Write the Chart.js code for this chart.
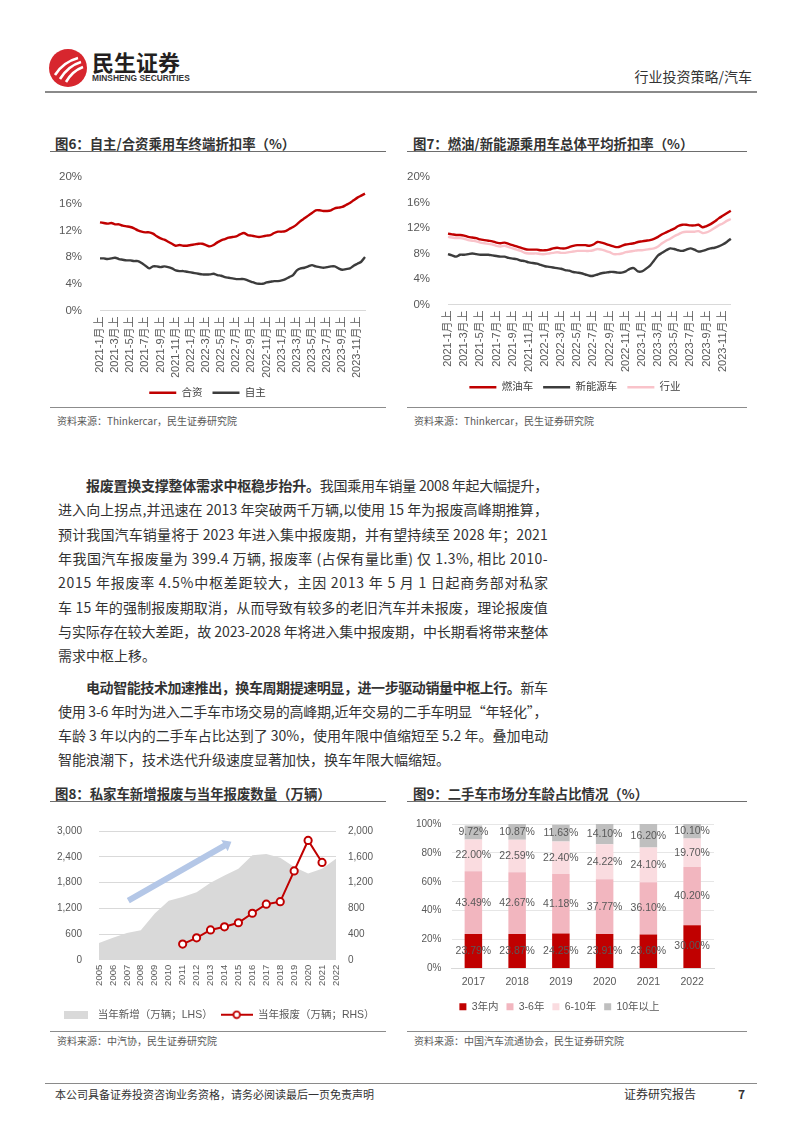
<!DOCTYPE html>
<html>
<head>
<meta charset="utf-8">
<title>行业投资策略/汽车</title>
<script src="https://cdn.jsdelivr.net/npm/chart.js@4.4.1/dist/chart.umd.min.js"></script>
<style>
  body { margin: 0; background: #fff; font-family: "Noto Sans CJK SC", "Noto Sans", sans-serif; color: #333; }
  #page { position: relative; width: 802px; height: 1133px; overflow: hidden; background: #fff; }
  .abs { position: absolute; white-space: nowrap; }
  .fig-title { position: absolute; font-size: 13.4px; font-weight: bold; color: #333; line-height: 18px; white-space: nowrap; }
  .rule { position: absolute; height: 0; border-top: 1.5px solid #6d6d6d; }
  .thin { position: absolute; height: 0; border-top: 1px solid #8c8c8c; }
  .src { position: absolute; font-size: 10px; color: #595959; line-height: 14px; white-space: nowrap; }
  .jl { position: absolute; left: 58px; font-size: 14px; line-height: 20px; white-space: nowrap; color: #333; }
  .ind { padding-left: 28px; }
  canvas { position: absolute; }
</style>
</head>
<body>
<div id="page">

  <!-- header -->
  <svg class="abs" style="left:48px;top:48px" width="40" height="40" viewBox="0 0 40 40">
    <circle cx="20" cy="20" r="19" fill="#d7262e"/>
    <path d="M7 27 C12 19 19 13 30 10" stroke="#fff" stroke-width="2.6" fill="none"/>
    <path d="M12 31 C17 23 23 17 33 14" stroke="#fff" stroke-width="2.6" fill="none"/>
    <path d="M18 34 C22 27 27 22 35 19" stroke="#fff" stroke-width="2.6" fill="none"/>
  </svg>
  <div class="abs" style="left:92px;top:48px;font-size:22px;font-weight:bold;color:#231f20;line-height:26px;">民生证券</div>
  <div class="abs" style="left:92px;top:73px;font-family:'Liberation Sans Narrow','Liberation Sans',sans-serif;font-size:8.4px;font-weight:bold;color:#333;line-height:11px;">MINSHENG SECURITIES</div>
  <div class="abs" style="right:50px;top:66px;font-size:14px;color:#333;line-height:20px;">行业投资策略/汽车</div>
  <div class="rule" style="left:45px;width:712px;top:91px;border-top:2px solid #8a8a8a;"></div>

  <!-- figure titles -->
  <div class="fig-title" style="left:55px;top:134px;">图6：自主/合资乘用车终端折扣率（%）</div>
  <div class="rule" style="left:50px;width:336px;top:151px;"></div>
  <div class="fig-title" style="left:413px;top:134px;">图7：燃油/新能源乘用车总体平均折扣率（%）</div>
  <div class="rule" style="left:407px;width:340px;top:151px;"></div>

  <canvas id="c6" width="335" height="250" style="left:50px;top:160px;"></canvas>
  <canvas id="c7" width="345" height="250" style="left:405px;top:160px;"></canvas>

  <div class="thin" style="left:50px;width:336px;top:407px;"></div>
  <div class="thin" style="left:407px;width:340px;top:407px;"></div>
  <div class="src" style="left:57px;top:414px;">资料来源：Thinkercar，民生证券研究院</div>
  <div class="src" style="left:414px;top:414px;">资料来源：Thinkercar，民生证券研究院</div>

  <!-- body text -->
  <div class="jl ind" style="top:475px;"><b>报废置换支撑整体需求中枢稳步抬升。</b>我国乘用车销量 2008 年起大幅提升，</div>
  <div class="jl" style="top:499px;">进入向上拐点,并迅速在 2013 年突破两千万辆,以使用 15 年为报废高峰期推算，</div>
  <div class="jl" style="top:523.5px;">预计我国汽车销量将于 2023 年进入集中报废期，并有望持续至 2028 年；2021</div>
  <div class="jl" style="top:548px;">年我国汽车报废量为 399.4 万辆, 报废率 (占保有量比重) 仅 1.3%, 相比 2010-</div>
  <div class="jl" style="top:572px;">2015 年报废率 4.5%中枢差距较大，主因 2013 年 5 月 1 日起商务部对私家</div>
  <div class="jl" style="top:596.5px;">车 15 年的强制报废期取消，从而导致有较多的老旧汽车并未报废，理论报废值</div>
  <div class="jl" style="top:620.5px;">与实际存在较大差距，故 2023-2028 年将进入集中报废期，中长期看将带来整体</div>
  <div class="jl last" style="top:645px;">需求中枢上移。</div>

  <div class="jl ind" style="top:677px;"><b>电动智能技术加速推出，换车周期提速明显，进一步驱动销量中枢上行。</b>新车</div>
  <div class="jl" style="top:701px;">使用 3-6 年时为进入二手车市场交易的高峰期,近年交易的二手车明显“年轻化”，</div>
  <div class="jl" style="top:725px;">车龄 3 年以内的二手车占比达到了 30%，使用年限中值缩短至 5.2 年。叠加电动</div>
  <div class="jl last" style="top:749px;">智能浪潮下，技术迭代升级速度显著加快，换车年限大幅缩短。</div>

  <div class="fig-title" style="left:55px;top:784px;">图8：私家车新增报废与当年报废数量（万辆）</div>
  <div class="rule" style="left:50px;width:336px;top:801px;"></div>
  <div class="fig-title" style="left:413px;top:784px;">图9：二手车市场分车龄占比情况（%）</div>
  <div class="rule" style="left:407px;width:340px;top:801px;"></div>

  <canvas id="c8" width="335" height="222" style="left:50px;top:808px;"></canvas>
  <canvas id="c9" width="345" height="222" style="left:405px;top:808px;"></canvas>

  <div class="thin" style="left:50px;width:336px;top:1031px;"></div>
  <div class="thin" style="left:407px;width:340px;top:1031px;"></div>
  <div class="src" style="left:57px;top:1034px;">资料来源：中汽协，民生证券研究院</div>
  <div class="src" style="left:414px;top:1034px;">资料来源：中国汽车流通协会，民生证券研究院</div>

  <!-- footer -->
  <div class="rule" style="left:45px;width:712px;top:1083px;border-top:1.5px solid #8a8a8a;"></div>
  <div class="abs" style="left:55px;top:1087px;font-size:11px;color:#333;line-height:15px;">本公司具备证券投资咨询业务资格，请务必阅读最后一页免责声明</div>
  <div class="abs" style="left:624px;top:1086px;font-size:12px;color:#333;line-height:16px;">证券研究报告</div>
  <div class="abs" style="left:738px;top:1086px;font-size:12px;font-weight:bold;color:#333;line-height:16px;">7</div>
</div>

<script>
// ---- data ----
const years = [2021, 2022, 2023];
const halves = ['上', '下'];
const periods = [];
years.forEach(y => { for (let m = 1; m <= 12; m++) halves.forEach(h => periods.push(y + '-' + m + '月' + h)); });
periods.length = 71; // 2021-1月上 ... 2023-12月上

// 图6 (%)
const jvRate = [13.2,13.1,13.0,13.1,12.9,12.9,12.7,12.6,12.5,12.3,
  12.0,11.8,11.7,11.7,11.5,11.1,10.8,10.6,10.3,10.0,
  9.7,9.8,9.7,9.7,9.8,9.9,10.0,10.0,9.8,9.6,
  9.8,10.2,10.5,10.7,10.9,11.0,11.1,11.4,11.6,11.3,
  11.2,11.1,11.0,11.1,11.2,11.3,11.6,11.8,11.8,11.9,
  12.2,12.5,12.9,13.4,13.8,14.2,14.6,15.0,15.0,14.9,
  14.9,15.0,15.3,15.4,15.5,15.8,16.1,16.5,16.9,17.2,
  17.5];
const ownRate = [7.8,7.8,7.7,7.8,7.9,7.7,7.6,7.5,7.5,7.4,
  7.4,7.1,6.7,6.3,6.6,6.6,6.5,6.6,6.5,6.3,
  6.0,5.9,5.9,5.8,5.7,5.6,5.5,5.4,5.4,5.4,
  5.5,5.3,5.2,5.0,4.9,4.8,4.7,4.7,4.7,4.5,
  4.3,4.1,4.0,4.0,4.2,4.3,4.4,4.4,4.5,4.7,
  5.0,5.3,6.0,6.3,6.4,6.6,6.8,6.6,6.5,6.4,
  6.5,6.6,6.6,6.3,6.1,6.2,6.3,6.7,7.0,7.3,
  8.0];

// 图7 (%)
const iceRate = [11.1,11.0,10.9,10.9,10.8,10.6,10.5,10.4,10.2,10.1,
  10.0,9.9,9.7,9.6,9.7,9.5,9.3,9.1,8.9,8.7,
  8.6,8.6,8.6,8.5,8.5,8.6,8.8,8.9,8.8,8.8,
  9.0,9.2,9.3,9.3,9.3,9.2,9.4,9.8,9.7,9.5,
  9.3,9.1,9.0,9.2,9.4,9.5,9.6,9.8,9.9,10.0,
  10.1,10.3,10.6,11.0,11.3,11.6,11.9,12.3,12.5,12.5,
  12.4,12.4,12.5,12.1,12.3,12.6,13.0,13.5,13.9,14.3,
  14.7];
const nevRate = [7.9,7.7,7.5,7.8,7.8,7.9,8.0,7.9,7.8,7.8,
  7.8,7.7,7.6,7.5,7.5,7.3,7.2,7.1,6.9,6.8,
  6.6,6.5,6.4,6.2,6.0,5.9,5.8,5.7,5.6,5.4,
  5.3,5.1,5.0,4.9,4.7,4.5,4.5,4.7,4.9,5.0,
  5.1,5.1,5.0,5.0,5.2,5.6,5.7,5.2,5.2,5.6,
  6.1,6.9,7.7,8.1,8.5,8.8,8.7,8.5,8.4,8.6,
  8.8,8.6,8.3,8.4,8.6,8.8,8.9,9.1,9.4,9.8,
  10.3];
const industryRate = [10.6,10.5,10.4,10.4,10.3,10.1,10.0,9.9,9.7,9.6,
  9.5,9.4,9.2,9.1,9.2,9.0,8.8,8.6,8.4,8.1,
  8.0,8.0,8.0,7.9,7.9,8.0,8.1,8.2,8.1,8.1,
  8.2,8.3,8.4,8.4,8.4,8.4,8.5,8.7,8.6,8.4,
  8.2,7.9,7.9,8.0,8.2,8.3,8.4,8.5,8.5,8.6,
  8.7,8.8,9.1,9.6,10.0,10.3,10.7,11.0,11.3,11.4,
  11.4,11.4,11.5,11.2,11.3,11.6,12.0,12.4,12.7,13.1,
  13.4];

// 图8 (万辆)
const carYears = ['2005','2006','2007','2008','2009','2010','2011','2012','2013',
  '2014','2015','2016','2017','2018','2019','2020','2021','2022'];
const newPrivate = [388,512,622,690,1080,1376,1463,1573,1793,1961,2122,2437,2466,2378,2160,2012,2122,2356];
const scrapped = [null,null,null,null,null,null,244,341,463,512,575,722,863,902,1380,1853,1512,null];
const arrowFrom = [2.1, 1380];  // [category index, LHS value]
const arrowTo = [9.5, 2750];

// 图9 (%)
const usedYears = ['2017','2018','2019','2020','2021','2022'];
const within3 = [23.79,23.87,24.25,23.91,23.60,30.00];
const y3to6 = [43.49,42.67,41.18,37.77,36.10,40.20];
const y6to10 = [22.00,22.59,22.40,24.22,24.10,19.70];
const over10 = [9.72,10.87,11.63,14.10,16.20,10.10];

// ---- justify body lines ----
document.querySelectorAll('.jl').forEach(el => {
  if (el.classList.contains('last')) return;
  const n = Array.from(el.textContent).length;
  const w = el.offsetWidth;
  el.style.letterSpacing = ((490 - w) / (n - 1)).toFixed(3) + 'px';
});

// ---- charts ----
const RED = '#c00000', DARK = '#3c3c3c', PINK = '#f9c3ca', GRID = '#d9d9d9';
Chart.defaults.font.family = "'Liberation Sans', 'Noto Sans CJK SC', sans-serif";
Chart.defaults.color = '#595959';
Chart.defaults.animation = false;

function fixWidth(w) { return s => { s.width = w; }; }
function fixHeight(h) { return s => { s.height = h; }; }

const halfMonthTicks = {
  autoSkip: false, minRotation: 90, maxRotation: 90, padding: 6,
  font: { size: 11 },
  callback: (v, i) => (i % 4 === 0 ? periods[i] : '')
};
const pctAxis = {
  min: 0, max: 20,
  border: { display: false },
  grid: { display: false },
  ticks: { stepSize: 4, font: { size: 11.5 }, callback: v => v + '%' }
};
const lineLegend = {
  position: 'bottom',
  labels: { usePointStyle: true, pointStyle: 'line', pointStyleWidth: 27, padding: 10, font: { size: 10.5 }, color: '#404040' }
};

new Chart(document.getElementById('c6'), {
  type: 'line',
  data: {
    labels: periods,
    datasets: [
      { label: '合资', data: jvRate, borderColor: RED, borderWidth: 2.4, pointRadius: 0, tension: 0.3 },
      { label: '自主', data: ownRate, borderColor: DARK, borderWidth: 2.4, pointRadius: 0, tension: 0.3 }
    ]
  },
  options: {
    responsive: false,
    layout: { padding: { left: 0, right: 20, top: 13, bottom: 2 } },
    plugins: { legend: lineLegend, tooltip: { enabled: false } },
    scales: {
      x: { grid: { display: false, drawTicks: false }, border: { color: GRID }, ticks: halfMonthTicks, afterFit: fixHeight(67) },
      y: Object.assign({}, pctAxis, { ticks: Object.assign({}, pctAxis.ticks, { padding: 10 }), afterFit: fixWidth(50) })
    }
  }
});

new Chart(document.getElementById('c7'), {
  type: 'line',
  data: {
    labels: periods,
    datasets: [
      { label: '燃油车', data: iceRate, borderColor: RED, borderWidth: 2.4, pointRadius: 0, tension: 0.3 },
      { label: '新能源车', data: nevRate, borderColor: DARK, borderWidth: 2.4, pointRadius: 0, tension: 0.3 },
      { label: '行业', data: industryRate, borderColor: PINK, borderWidth: 2.4, pointRadius: 0, tension: 0.3 }
    ]
  },
  options: {
    responsive: false,
    layout: { padding: { left: 0, right: 5, top: 13, bottom: 7.5 } },
    plugins: { legend: lineLegend, tooltip: { enabled: false } },
    scales: {
      x: { grid: { display: false, drawTicks: false }, border: { color: GRID }, ticks: halfMonthTicks, afterFit: fixHeight(67.5) },
      y: Object.assign({}, pctAxis, { ticks: Object.assign({}, pctAxis.ticks, { padding: 10 }), afterFit: fixWidth(43) })
    }
  }
});

// legend icons for 图8
function icon(w, h, draw) {
  const c = document.createElement('canvas');
  c.width = w; c.height = h;
  draw(c.getContext('2d'));
  return c;
}
const areaIcon = icon(24, 8, g => { g.fillStyle = GRID; g.fillRect(0, 0, 24, 8); });
const markerIcon = icon(32, 10, g => {
  g.strokeStyle = RED; g.lineWidth = 2;
  g.beginPath(); g.moveTo(0, 5); g.lineTo(32, 5); g.stroke();
  g.fillStyle = '#fff'; g.lineWidth = 1.8;
  g.beginPath(); g.arc(16, 5, 3.3, 0, Math.PI * 2); g.fill(); g.stroke();
});

const trendArrow = {
  id: 'trendArrow',
  afterDatasetsDraw(chart) {
    const xs = chart.scales.x, ys = chart.scales.y;
    const x0 = xs.getPixelForValue(arrowFrom[0]), y0 = ys.getPixelForValue(arrowFrom[1]);
    const x1 = xs.getPixelForValue(arrowTo[0]), y1 = ys.getPixelForValue(arrowTo[1]);
    const len = Math.hypot(x1 - x0, y1 - y0);
    const ctx = chart.ctx;
    ctx.save();
    ctx.translate(x0, y0);
    ctx.rotate(Math.atan2(y1 - y0, x1 - x0));
    ctx.fillStyle = '#b4c7e7';
    ctx.beginPath();
    ctx.moveTo(0, -3); ctx.lineTo(len - 8, -3); ctx.lineTo(len - 8, -6.5);
    ctx.lineTo(len, 0); ctx.lineTo(len - 8, 6.5); ctx.lineTo(len - 8, 3); ctx.lineTo(0, 3);
    ctx.closePath(); ctx.fill();
    ctx.restore();
  }
};

new Chart(document.getElementById('c8'), {
  type: 'line',
  data: {
    labels: carYears,
    datasets: [
      { label: '当年新增（万辆；LHS）', data: newPrivate, yAxisID: 'y', fill: 'origin', backgroundColor: GRID,
        borderWidth: 0, pointRadius: 0, order: 1 },
      { label: '当年报废（万辆；RHS）', data: scrapped, yAxisID: 'y1', borderColor: RED, borderWidth: 2,
        pointRadius: 3.6, pointBackgroundColor: '#fff', pointBorderColor: RED, pointBorderWidth: 2, order: 0 }
    ]
  },
  options: {
    responsive: false,
    layout: { padding: { left: 0, right: 0, top: 15, bottom: 0 } },
    plugins: {
      tooltip: { enabled: false },
      legend: {
        position: 'bottom',
        labels: {
          usePointStyle: true, pointStyleWidth: 32, padding: 8, font: { size: 10.5 }, color: '#595959',
          generateLabels: chart => chart.data.datasets.map((ds, i) => ({
            text: ds.label, pointStyle: i === 0 ? areaIcon : markerIcon, datasetIndex: i,
            fillStyle: GRID, strokeStyle: RED, lineWidth: 0, hidden: false, fontColor: '#595959'
          }))
        }
      }
    },
    scales: {
      x: { offset: false, grid: { display: false, drawTicks: false }, border: { display: false },
        ticks: { autoSkip: false, minRotation: 90, maxRotation: 90, padding: 5, font: { size: 9.5 } },
        afterFit: fixHeight(41.75) },
      y: { position: 'left', min: 0, max: 3000, border: { display: false }, grid: { color: GRID, drawTicks: false },
        ticks: { stepSize: 600, padding: 17, font: { size: 10 }, callback: v => v.toLocaleString('en-US') },
        afterFit: fixWidth(49) },
      y1: { position: 'right', min: 0, max: 2000, border: { display: false }, grid: { display: false, drawTicks: false },
        ticks: { stepSize: 400, padding: 12, font: { size: 10 }, callback: v => v.toLocaleString('en-US') },
        afterFit: fixWidth(49) }
    }
  },
  plugins: [trendArrow]
});

const segmentLabels = {
  id: 'segmentLabels',
  afterDatasetsDraw(chart) {
    const ctx = chart.ctx;
    ctx.save();
    ctx.font = "10.5px 'Liberation Sans', sans-serif";
    ctx.fillStyle = '#595959';
    ctx.textAlign = 'center';
    ctx.textBaseline = 'middle';
    chart.data.datasets.forEach((ds, di) => {
      chart.getDatasetMeta(di).data.forEach((bar, i) => {
        ctx.fillText(ds.data[i].toFixed(2) + '%', bar.x, (bar.y + bar.base) / 2);
      });
    });
    ctx.restore();
  }
};

new Chart(document.getElementById('c9'), {
  type: 'bar',
  data: {
    labels: usedYears,
    datasets: [
      { label: '3年内', data: within3, backgroundColor: RED },
      { label: '3-6年', data: y3to6, backgroundColor: '#f2b6bf' },
      { label: '6-10年', data: y6to10, backgroundColor: '#fadce0' },
      { label: '10年以上', data: over10, backgroundColor: '#bfbfbf' }
    ]
  },
  options: {
    responsive: false,
    datasets: { bar: { barPercentage: 0.4, categoryPercentage: 1 } },
    layout: { padding: { left: 0, right: 36, top: 12, bottom: 8 } },
    plugins: {
      tooltip: { enabled: false },
      legend: { position: 'bottom', labels: { boxWidth: 7, boxHeight: 7, padding: 8, font: { size: 10.5 }, color: '#595959' } }
    },
    scales: {
      x: { stacked: true, grid: { display: false, drawTicks: false }, border: { color: GRID },
        ticks: { padding: 7, font: { size: 10.5 } }, afterFit: fixHeight(25) },
      y: { stacked: true, min: 0, max: 100, border: { display: false }, grid: { color: '#e6e6e6', drawTicks: false },
        ticks: { stepSize: 20, padding: 10, font: { size: 10 }, callback: v => v + '%' }, afterFit: fixWidth(46.5) }
    }
  },
  plugins: [segmentLabels]
});
</script>
</body>
</html>
